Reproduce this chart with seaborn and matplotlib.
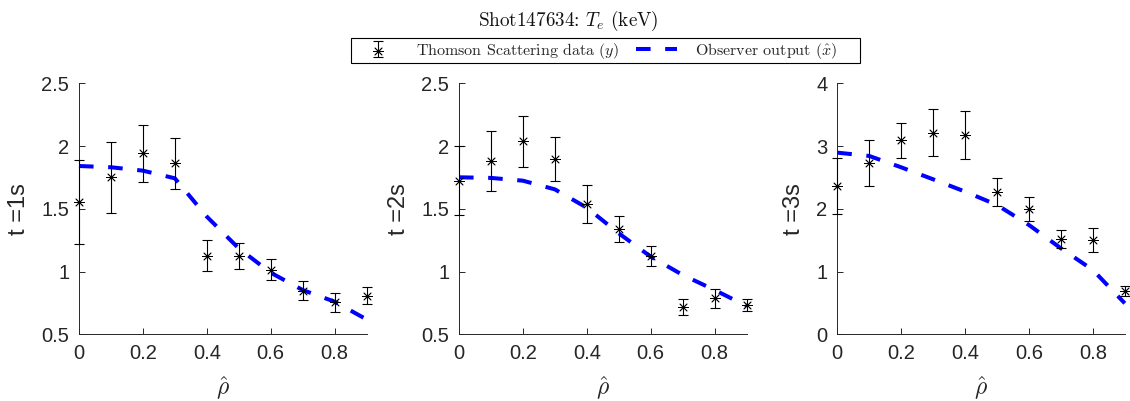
import numpy as np
import pandas as pd
import matplotlib
matplotlib.use("Agg")
import matplotlib.pyplot as plt
import seaborn as sns
from matplotlib.legend_handler import HandlerTuple
from matplotlib.patches import Rectangle

# ---- data ----
rho = [0.0, 0.1, 0.2, 0.3, 0.4, 0.5, 0.6, 0.7, 0.8, 0.9]
times = ["t =1s", "t =2s", "t =3s"]

ts_1 = [1.552, 1.751, 1.942, 1.863, 1.127, 1.124, 1.013, 0.848, 0.755, 0.808]
err_1 = [0.336, 0.282, 0.225, 0.202, 0.121, 0.101, 0.084, 0.076, 0.077, 0.067]
obs_1 = [1.841, 1.831, 1.804, 1.743, 1.438, 1.185, 0.991, 0.853, 0.760, 0.619]

ts_2 = [1.724, 1.884, 2.038, 1.897, 1.536, 1.339, 1.122, 0.721, 0.787, 0.734]
err_2 = [0.277, 0.239, 0.202, 0.177, 0.152, 0.107, 0.080, 0.064, 0.076, 0.049]
obs_2 = [1.751, 1.746, 1.724, 1.655, 1.509, 1.305, 1.119, 0.973, 0.853, 0.726]

ts_3 = [2.364, 2.725, 3.092, 3.214, 3.177, 2.274, 1.997, 1.519, 1.498, 0.691]
err_3 = [0.452, 0.364, 0.282, 0.372, 0.385, 0.224, 0.189, 0.136, 0.189, 0.080]
obs_3 = [2.895, 2.842, 2.661, 2.470, 2.274, 2.061, 1.742, 1.370, 1.025, 0.494]

ylims = [(0.5, 2.5), (0.5, 2.5), (0, 4)]
yticks = [[0.5, 1, 1.5, 2, 2.5], [0.5, 1, 1.5, 2, 2.5], [0, 1, 2, 3, 4]]
yticklabels = [["0.5", "1", "1.5", "2", "2.5"], ["0.5", "1", "1.5", "2", "2.5"],
               ["0", "1", "2", "3", "4"]]
xticks = [0, 0.2, 0.4, 0.6, 0.8]
xticklabels = ["0", "0.2", "0.4", "0.6", "0.8"]

title = r"Shot147634: $T_e$ (keV)"
label_ts = r"Thomson Scattering data $(y)$"
label_obs = r"Observer output $(\hat{x})$"

ts_all = [ts_1, ts_2, ts_3]
err_all = [err_1, err_2, err_3]
obs_all = [obs_1, obs_2, obs_3]

# ---- style ----
sns.set_theme(style="white")
plt.rcParams["font.family"] = ["Liberation Sans", "DejaVu Sans"]
plt.rcParams["mathtext.fontset"] = "cm"
plt.rcParams["lines.scale_dashes"] = False

axcol = "#262626"
W, H = 1130.0, 401.0
fig = plt.figure(figsize=(11.30, 4.01), dpi=100)
lefts = [79.0 / W, 459.0 / W, 837.3 / W]
width = 287.5 / W
bottom = 1 - 334.3 / H
height = (334.3 - 83.3) / H

handles = None
for i in range(3):
    ax = fig.add_axes([lefts[i], bottom, width, height])
    df = pd.DataFrame({"rho": rho, "ts": ts_all[i], "err": err_all[i], "obs": obs_all[i]})
    sns.lineplot(data=df, x="rho", y="obs", ax=ax, color="#0000ff", lw=2.9,
                 dashes=False, zorder=3)
    ln = ax.lines[-1]
    ln.set_dashes((10.5, 10.5))
    eb = ax.errorbar(df["rho"], df["ts"], yerr=df["err"], fmt="none", ecolor="black",
                     elinewidth=0.8, capsize=3.8, capthick=0.8, zorder=4)
    sns.scatterplot(data=df, x="rho", y="ts", ax=ax, marker=(8, 2, 0), s=50,
                    color="black", linewidth=0.6, zorder=5)
    coll = ax.collections[-1]
    if i == 0:
        handles = [(eb, coll), ln]
    ax.set_xlim(0, 0.9)
    ax.set_ylim(*ylims[i])
    ax.set_xticks(xticks)
    ax.set_xticklabels(xticklabels)
    ax.set_yticks(yticks[i])
    ax.set_yticklabels(yticklabels[i])
    for s in ["top", "right"]:
        ax.spines[s].set_visible(False)
    for s in ["left", "bottom"]:
        ax.spines[s].set_color(axcol)
        ax.spines[s].set_linewidth(0.7)
    ax.tick_params(direction="in", length=4, width=0.7, color=axcol,
                   labelcolor=axcol, labelsize=14.5, pad=7,
                   left=True, bottom=True)
    ax.set_xlabel(r"$\hat{\rho}$", fontsize=17, color=axcol, labelpad=8)
    ax.set_ylabel(times[i], fontsize=17, color=axcol, labelpad=8)
    ax.set_facecolor("white")
    for c in list(ax.lines) + list(ax.collections):
        c.set_clip_on(False)

fig.text(568.5 / W, 1 - 20.5 / H, title, ha="center", va="center", fontsize=13.8,
         family=["cmr10", "DejaVu Serif"], color="#111111")

# legend box (MATLAB-style, wider than its contents)
fig.patches.append(Rectangle((351 / W, 1 - 63.3 / H), (860 - 351) / W, 25 / H,
                             transform=fig.transFigure, fill=False,
                             edgecolor="black", linewidth=0.8, zorder=1))
leg = fig.legend(handles, [label_ts, label_obs], loc="center",
                 bbox_to_anchor=(597 / W, 1 - 50.8 / H), ncol=2, frameon=False,
                 handler_map={tuple: HandlerTuple(ndivide=1)},
                 prop={"family": ["cmr10", "DejaVu Serif"], "size": 11.5},
                 borderpad=0.3, handlelength=2.6, columnspacing=1.0,
                 handletextpad=1.1, borderaxespad=0)

fig.savefig("out.png", dpi=100, facecolor="white")
